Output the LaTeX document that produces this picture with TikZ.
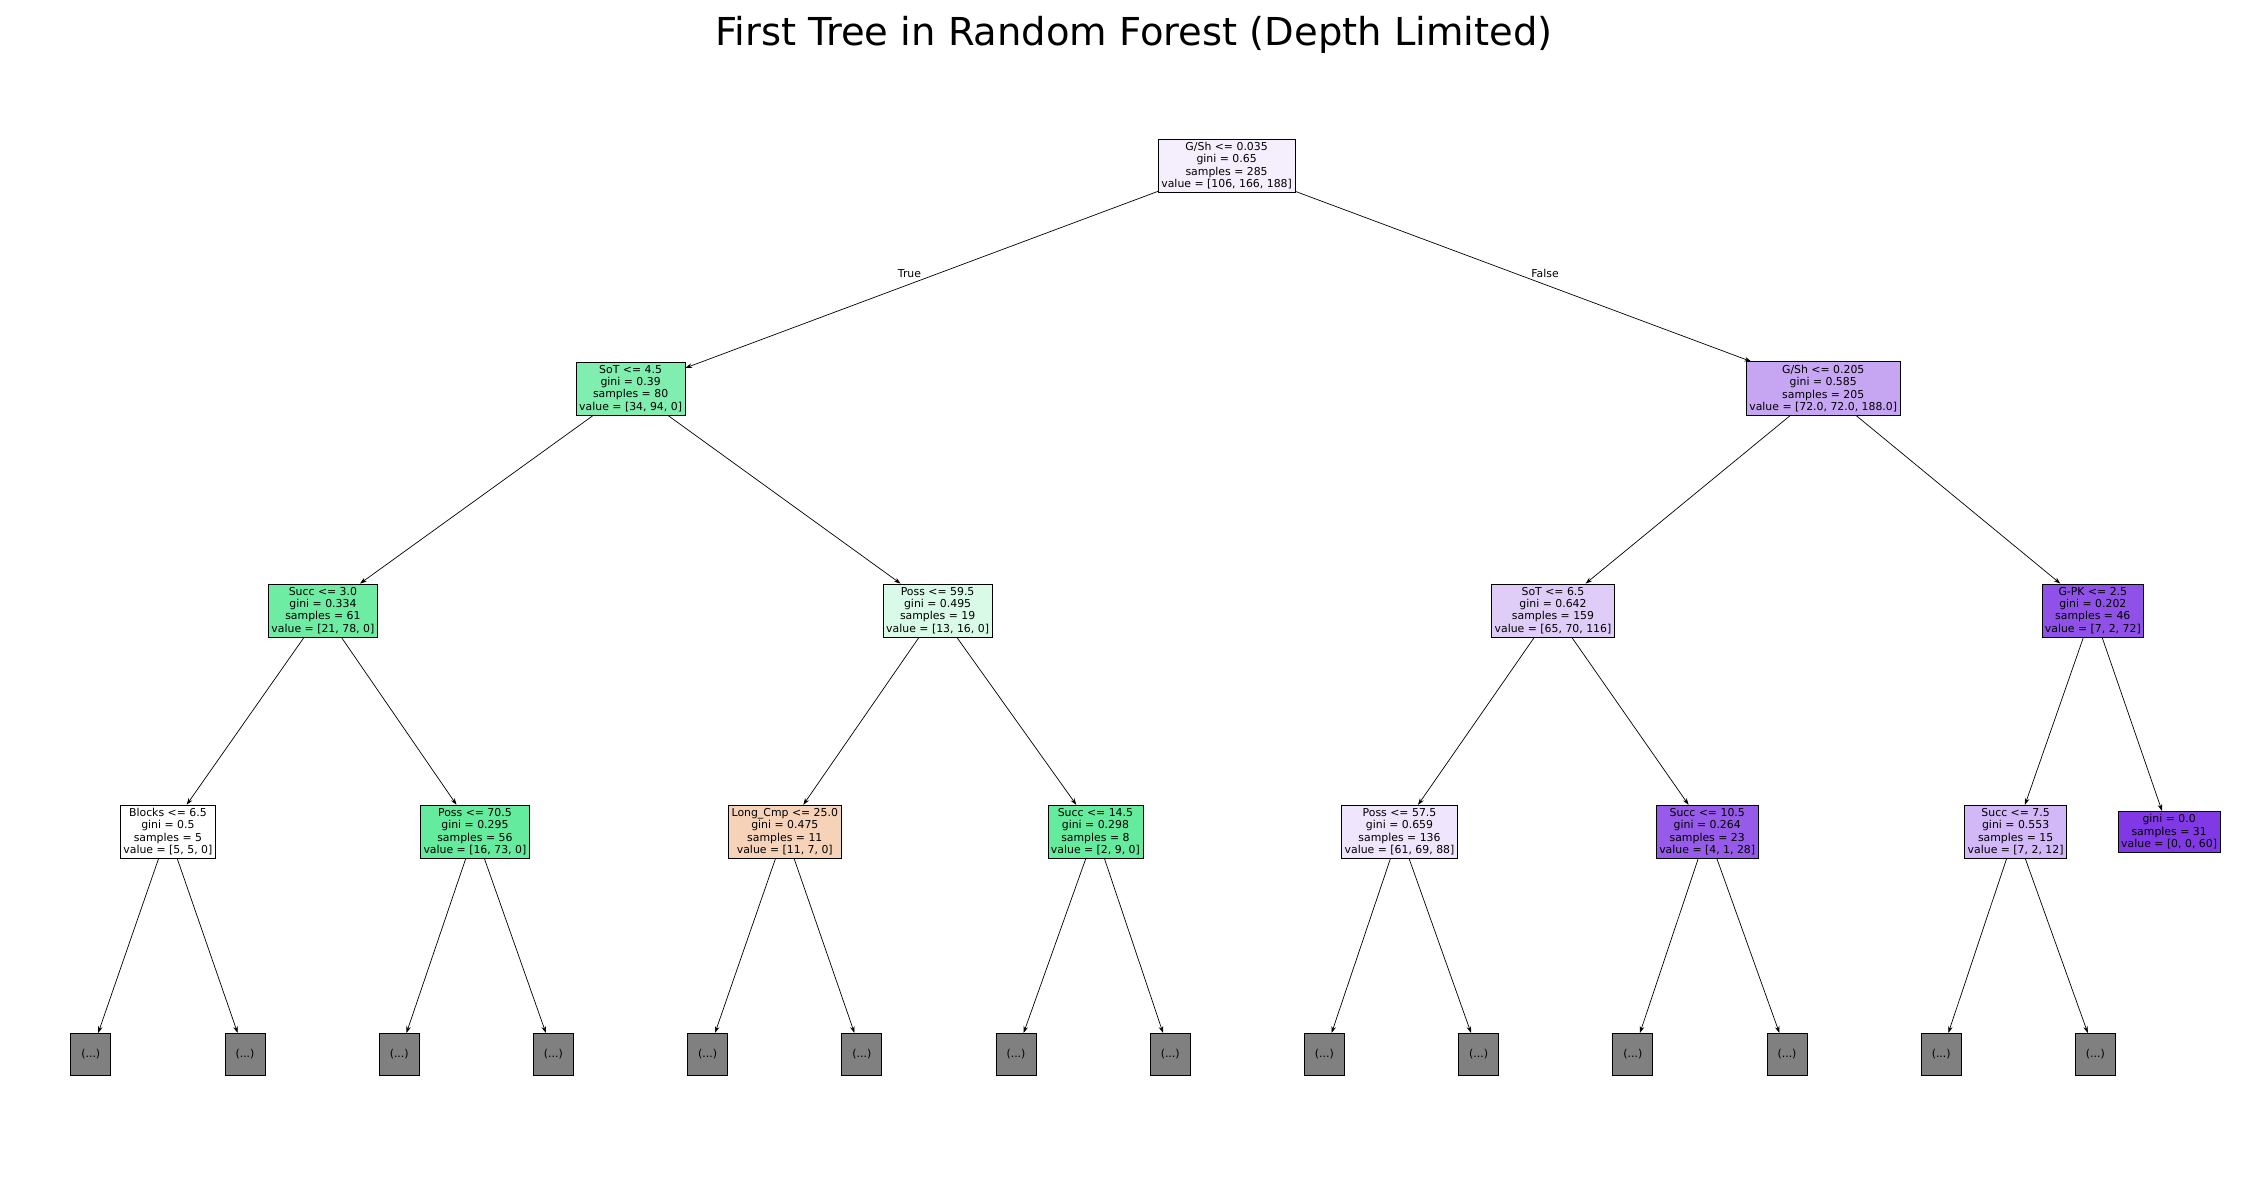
\documentclass[tikz,border=0pt]{standalone}
\usepackage{fontspec}
\setmainfont{DejaVu Sans}
\usepackage{xcolor}
\usetikzlibrary{arrows.meta}

\definecolor{clsA}{HTML}{E58139}
\definecolor{clsB}{HTML}{39E581}
\definecolor{clsC}{HTML}{8139E5}
\definecolor{cutgray}{HTML}{808080}

\begin{document}
\begin{tikzpicture}[
    x=0.02cm, y=-0.02cm,
    split/.style={rectangle, draw, line width=0.4pt, inner sep=1.7pt, align=center, font=\fontsize{6.2}{7.1}\selectfont},
    cut/.style={rectangle, draw, line width=0.4pt, fill=cutgray, minimum width=0.8cm, minimum height=0.84cm, font=\fontsize{6.2}{7.1}\selectfont},
    edge/.style={-{Stealth[length=3.8pt,width=2.6pt]}, line width=0.4pt},
    lbl/.style={font=\fontsize{6.2}{7.1}\selectfont}
]
\useasboundingbox (0,0) rectangle (2260,1179);

\node[font=\fontsize{21.9}{25}\selectfont] (title) at (1134,35) {First Tree in Random Forest (Depth Limited)};

% root and first split
\node[split, fill=clsC!8] (root) at (1226.6,165.8) {G/Sh <= 0.035\\gini = 0.65\\samples = 285\\value = [106, 166, 188]};
\node[split, fill=clsB!64] (sotA) at (630.6,388.4) {SoT <= 4.5\\gini = 0.39\\samples = 80\\value = [34, 94, 0]};
\node[split, fill=clsC!45] (gshB) at (1823.2,388.4) {G/Sh <= 0.205\\gini = 0.585\\samples = 205\\value = [72.0, 72.0, 188.0]};

% depth 2
\node[split, fill=clsB!73] (succA) at (322.9,610.4) {Succ <= 3.0\\gini = 0.334\\samples = 61\\value = [21, 78, 0]};
\node[split, fill=clsB!19] (possA) at (937.6,610.4) {Poss <= 59.5\\gini = 0.495\\samples = 19\\value = [13, 16, 0]};
\node[split, fill=clsC!25] (sotB) at (1553.0,610.4) {SoT <= 6.5\\gini = 0.642\\samples = 159\\value = [65, 70, 116]};
\node[split, fill=clsC!88] (gpk) at (2092.8,610.4) {G-PK <= 2.5\\gini = 0.202\\samples = 46\\value = [7, 2, 72]};

% depth 3
\node[split, fill=white] (blocks) at (167.9,831.6) {Blocks <= 6.5\\gini = 0.5\\samples = 5\\value = [5, 5, 0]};
\node[split, fill=clsB!78] (possB) at (474.9,831.6) {Poss <= 70.5\\gini = 0.295\\samples = 56\\value = [16, 73, 0]};
\node[split, fill=clsA!36] (longcmp) at (784.8,831.6) {Long\_Cmp <= 25.0\\gini = 0.475\\samples = 11\\value = [11, 7, 0]};
\node[split, fill=clsB!78] (succB) at (1095.4,831.6) {Succ <= 14.5\\gini = 0.298\\samples = 8\\value = [2, 9, 0]};
\node[split, fill=clsC!13] (possC) at (1399.5,831.6) {Poss <= 57.5\\gini = 0.659\\samples = 136\\value = [61, 69, 88]};
\node[split, fill=clsC!83] (succC) at (1707.2,831.6) {Succ <= 10.5\\gini = 0.264\\samples = 23\\value = [4, 1, 28]};
\node[split, fill=clsC!36] (succD) at (2015.6,831.6) {Succ <= 7.5\\gini = 0.553\\samples = 15\\value = [7, 2, 12]};
\node[split, fill=clsC] (leaf) at (2169.1,831.6) {gini = 0.0\\samples = 31\\value = [0, 0, 60]};

% truncated subtrees
\foreach \i in {0,...,13}
    \node[cut] (cut\i) at (90.8+154.2*\i,1054.3) {(...)};

\draw[edge] (root) -- (sotA);
\draw[edge] (root) -- (gshB);
\draw[edge] (sotA) -- (succA);
\draw[edge] (sotA) -- (possA);
\draw[edge] (gshB) -- (sotB);
\draw[edge] (gshB) -- (gpk);
\draw[edge] (succA) -- (blocks);
\draw[edge] (succA) -- (possB);
\draw[edge] (possA) -- (longcmp);
\draw[edge] (possA) -- (succB);
\draw[edge] (sotB) -- (possC);
\draw[edge] (sotB) -- (succC);
\draw[edge] (gpk) -- (succD);
\draw[edge] (gpk) -- (leaf);
\foreach \p/\a/\b in {blocks/0/1, possB/2/3, longcmp/4/5, succB/6/7, possC/8/9, succC/10/11, succD/12/13} {
    \draw[edge] (\p) -- (cut\a);
    \draw[edge] (\p) -- (cut\b);
}

\node[lbl] (lbltrue) at (909.5,273.9) {True};
\node[lbl] (lblfalse) at (1545,273.9) {False};
\end{tikzpicture}
\end{document}
